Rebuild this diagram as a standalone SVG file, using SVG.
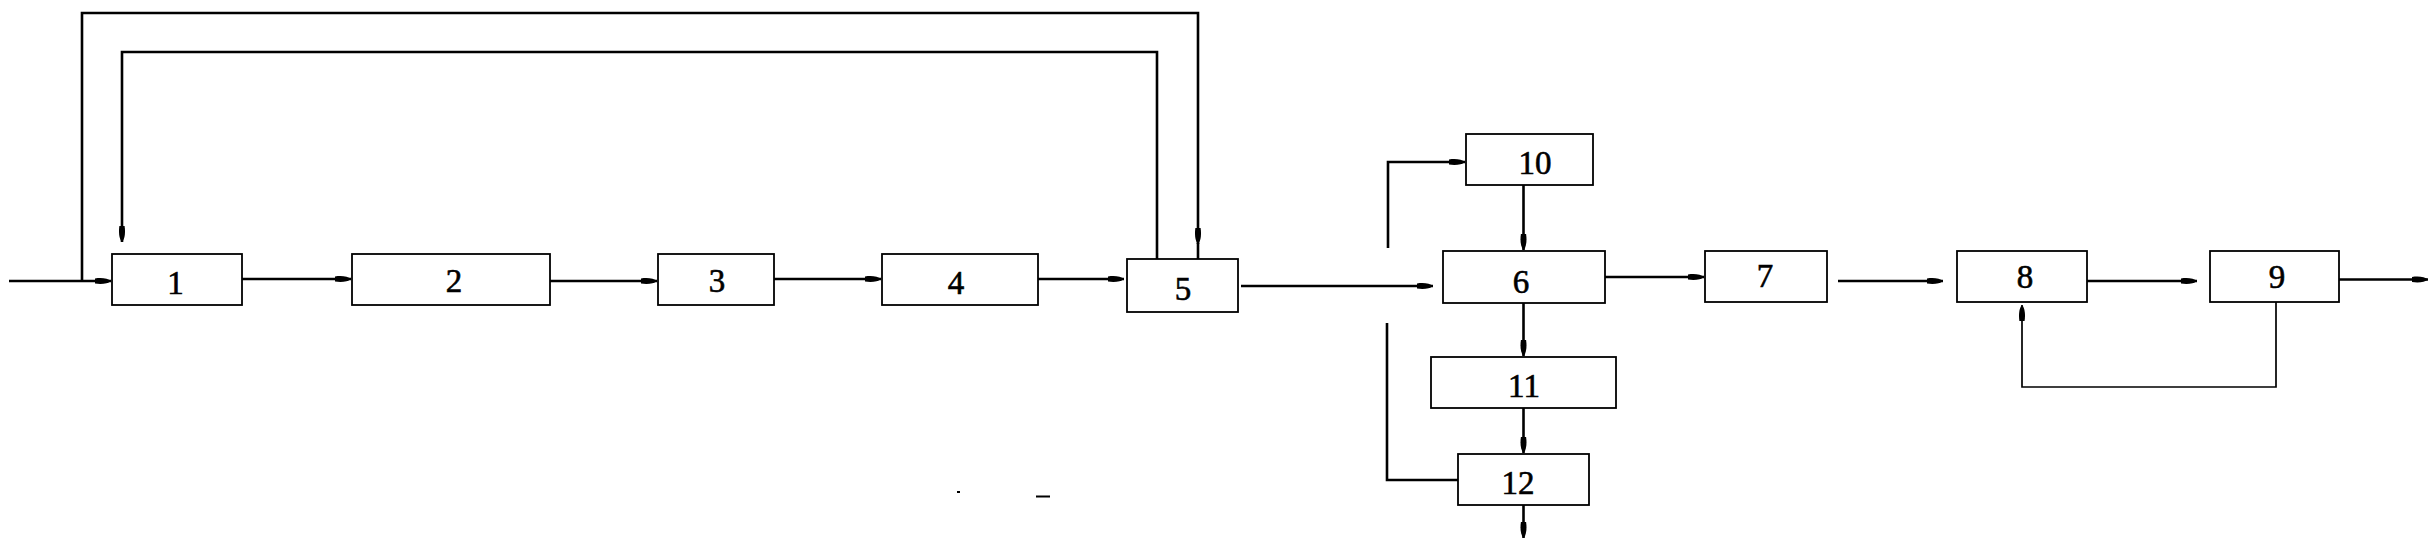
<svg xmlns="http://www.w3.org/2000/svg" width="2435" height="546" viewBox="0 0 2435 546">
<style>
.box{fill:#fff;stroke:#000;stroke-width:1.8}
.lbl{font-family:"Liberation Serif","Times New Roman",serif;font-size:33px;fill:#000;stroke:#000;stroke-width:0.6;text-anchor:middle}
.c{fill:none;stroke:#000;stroke-width:2.6}
.thin{fill:none;stroke:#000;stroke-width:1.7}
</style>
<defs>
<marker id="ah" markerUnits="userSpaceOnUse" viewBox="-17 -4 18 8" refX="0" refY="0" markerWidth="18" markerHeight="8" orient="auto">
<path d="M0,0 C-3,-3 -10,-3.5 -16,-2.6 L-16,2.6 C-10,3.5 -3,3 0,0 Z" fill="#000"/>
</marker>
</defs>
<rect width="2435" height="546" fill="#fff"/>
<g id="connectors">
<path class="c" d="M9,281 H111" marker-end="url(#ah)"/>
<path class="c" d="M82,281 V13 H1198 V244" marker-end="url(#ah)"/>
<path class="c" d="M1198,243 V259"/>
<path class="c" d="M1157,259 V52 H122 V242" marker-end="url(#ah)"/>
<path class="c" d="M242,279 H351" marker-end="url(#ah)"/>
<path class="c" d="M550,281 H657" marker-end="url(#ah)"/>
<path class="c" d="M774,279 H881" marker-end="url(#ah)"/>
<path class="c" d="M1038,279 H1124" marker-end="url(#ah)"/>
<path class="c" d="M1241,286 H1433" marker-end="url(#ah)"/>
<path class="c" d="M1388,248 V162 H1465" marker-end="url(#ah)"/>
<path class="c" d="M1523.5,185 V250" marker-end="url(#ah)"/>
<path class="c" d="M1458,480 H1387 V323"/>
<path class="c" d="M1523.5,303 V356" marker-end="url(#ah)"/>
<path class="c" d="M1523.5,408 V453" marker-end="url(#ah)"/>
<path class="c" d="M1523.5,505 V538" marker-end="url(#ah)"/>
<path class="c" d="M1605,277 H1704" marker-end="url(#ah)"/>
<path class="c" d="M1838,281 H1943" marker-end="url(#ah)"/>
<path class="c" d="M2087,281 H2197" marker-end="url(#ah)"/>
<path class="c" d="M2339,279.5 H2428" marker-end="url(#ah)"/>
<path class="thin" d="M2276,302 V387 H2022 V305" marker-end="url(#ah)"/>
</g>
<g id="node1"><rect class="box" x="112" y="254" width="130" height="51"/><text class="lbl" x="175.5" y="293.5">1</text></g>
<g id="node2"><rect class="box" x="352" y="254" width="198" height="51"/><text class="lbl" x="454" y="292">2</text></g>
<g id="node3"><rect class="box" x="658" y="254" width="116" height="51"/><text class="lbl" x="717" y="292">3</text></g>
<g id="node4"><rect class="box" x="882" y="254" width="156" height="51"/><text class="lbl" x="956" y="294">4</text></g>
<g id="node5"><rect class="box" x="1127" y="259" width="111" height="53"/><text class="lbl" x="1183" y="300">5</text></g>
<g id="node6"><rect class="box" x="1443" y="251" width="162" height="52"/><text class="lbl" x="1521" y="292.5">6</text></g>
<g id="node7"><rect class="box" x="1705" y="251" width="122" height="51"/><text class="lbl" x="1765" y="287">7</text></g>
<g id="node8"><rect class="box" x="1957" y="251" width="130" height="51"/><text class="lbl" x="2025" y="288">8</text></g>
<g id="node9"><rect class="box" x="2210" y="251" width="129" height="51"/><text class="lbl" x="2277" y="288">9</text></g>
<g id="node10"><rect class="box" x="1466" y="134" width="127" height="51"/><text class="lbl" x="1535" y="173.5">10</text></g>
<g id="node11"><rect class="box" x="1431" y="357" width="185" height="51"/><text class="lbl" x="1524" y="397">11</text></g>
<g id="node12"><rect class="box" x="1458" y="454" width="131" height="51"/><text class="lbl" x="1518" y="493.5">12</text></g>
<rect x="957" y="491" width="3" height="2" fill="#000"/>
<rect x="1036" y="495.5" width="14" height="2" fill="#000"/>
</svg>
